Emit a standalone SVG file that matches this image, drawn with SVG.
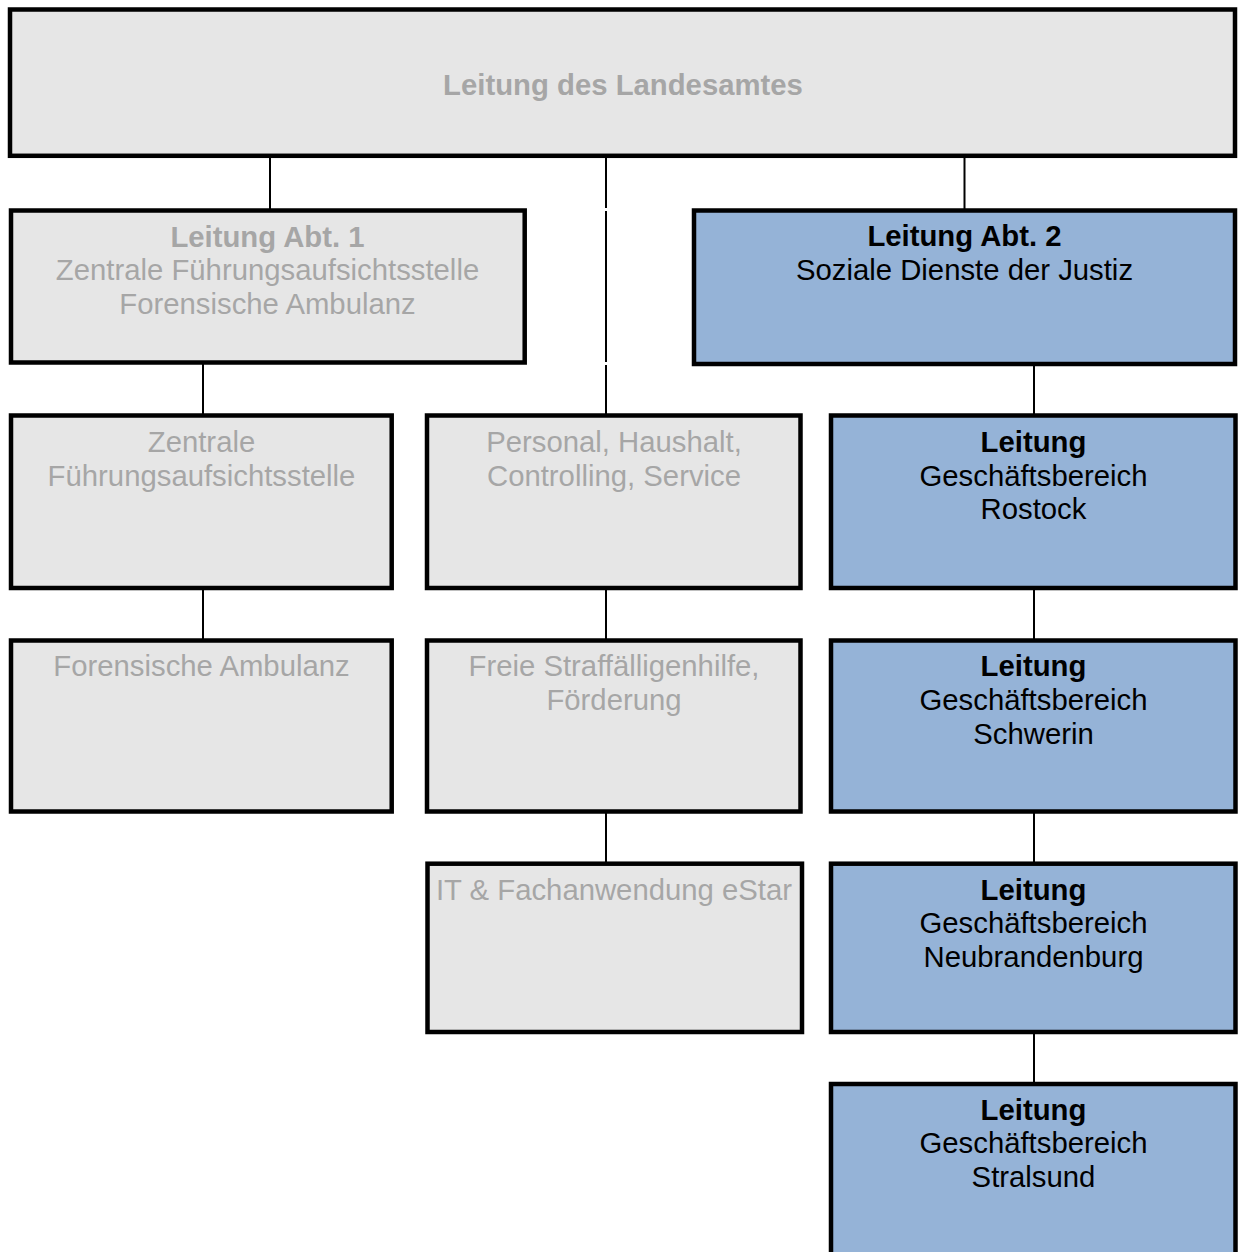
<svg xmlns="http://www.w3.org/2000/svg" width="1240" height="1252" viewBox="0 0 1240 1252">
<style>
  .box { stroke: #000; stroke-width: 4.5; }
  .grey { fill: #e6e6e6; }
  .blue { fill: #95b3d7; }
  .line { stroke: #000; stroke-width: 2; fill: none; }
  text { font-family: "Liberation Sans", Arial, sans-serif; font-size: 29.3px; text-anchor: middle; }
  .gt { fill: #a6a6a6; }
  .bt { fill: #000; }
  .b { font-weight: bold; }
</style>
<rect width="1240" height="1252" fill="#fff"/>
<g id="connectors">
  <line class="line" x1="270" y1="156" x2="270" y2="210"/>
  <line class="line" x1="964.5" y1="156" x2="964.5" y2="210"/>
  <line class="line" x1="606" y1="156" x2="606" y2="208"/>
  <line class="line" x1="606" y1="211" x2="606" y2="362"/>
  <line class="line" x1="606" y1="365" x2="606" y2="415"/>
  <line class="line" x1="1034" y1="364" x2="1034" y2="415"/>
  <line class="line" x1="203" y1="362" x2="203" y2="415"/>
  <line class="line" x1="203" y1="588" x2="203" y2="640"/>
  <line class="line" x1="606" y1="588" x2="606" y2="640"/>
  <line class="line" x1="1034" y1="588" x2="1034" y2="640"/>
  <line class="line" x1="606" y1="811" x2="606" y2="864"/>
  <line class="line" x1="1034" y1="811" x2="1034" y2="864"/>
  <line class="line" x1="1034" y1="1032" x2="1034" y2="1084"/>
</g>
<g id="leitung-landesamt">
  <rect class="box grey" x="10" y="9.5" width="1225" height="146.3"/>
  <text class="gt b" x="623" y="94.5">Leitung des Landesamtes</text>
</g>
<g id="abt1">
  <rect class="box grey" x="11" y="210.5" width="513.7" height="152"/>
  <text class="gt" x="267.5"><tspan class="b" x="267.5" y="246.5">Leitung Abt. 1</tspan><tspan x="267.5" y="280">Zentrale Führungsaufsichtsstelle</tspan><tspan x="267.5" y="313.5">Forensische Ambulanz</tspan></text>
</g>
<g id="abt2">
  <rect class="box blue" x="694" y="210.5" width="541" height="153.5"/>
  <text class="bt" x="964.5"><tspan class="b" x="964.5" y="246">Leitung Abt. 2</tspan><tspan x="964.5" y="280">Soziale Dienste der Justiz</tspan></text>
</g>
<g id="zfas">
  <rect class="box grey" x="11" y="415.5" width="380.7" height="172.5"/>
  <text class="gt"><tspan x="201.5" y="451.7">Zentrale</tspan><tspan x="201.5" y="485.5">Führungsaufsichtsstelle</tspan></text>
</g>
<g id="personal">
  <rect class="box grey" x="427" y="415.5" width="373.5" height="172.5"/>
  <text class="gt"><tspan x="614" y="451.7">Personal, Haushalt,</tspan><tspan x="614" y="485.5">Controlling, Service</tspan></text>
</g>
<g id="rostock">
  <rect class="box blue" x="831" y="415.5" width="404.5" height="172.5"/>
  <text class="bt"><tspan class="b" x="1033.5" y="451.7">Leitung</tspan><tspan x="1033.5" y="485.5">Geschäftsbereich</tspan><tspan x="1033.5" y="518.5">Rostock</tspan></text>
</g>
<g id="forensik">
  <rect class="box grey" x="11" y="640.5" width="380.7" height="171"/>
  <text class="gt" x="201.5" y="676">Forensische Ambulanz</text>
</g>
<g id="straffaelligenhilfe">
  <rect class="box grey" x="427" y="640.5" width="373.5" height="171"/>
  <text class="gt"><tspan x="614" y="676">Freie Straffälligenhilfe,</tspan><tspan x="614" y="710">Förderung</tspan></text>
</g>
<g id="schwerin">
  <rect class="box blue" x="831" y="640.5" width="404.5" height="171"/>
  <text class="bt"><tspan class="b" x="1033.5" y="676">Leitung</tspan><tspan x="1033.5" y="710">Geschäftsbereich</tspan><tspan x="1033.5" y="743.5">Schwerin</tspan></text>
</g>
<g id="it">
  <rect class="box grey" x="427.5" y="863.7" width="374.5" height="168.3"/>
  <text class="gt" x="614" y="899.5">IT &amp; Fachanwendung eStar</text>
</g>
<g id="neubrandenburg">
  <rect class="box blue" x="831" y="863.7" width="404.5" height="168.3"/>
  <text class="bt"><tspan class="b" x="1033.5" y="899.5">Leitung</tspan><tspan x="1033.5" y="933.3">Geschäftsbereich</tspan><tspan x="1033.5" y="967">Neubrandenburg</tspan></text>
</g>
<g id="stralsund">
  <rect class="box blue" x="831" y="1084" width="404.5" height="200"/>
  <text class="bt"><tspan class="b" x="1033.5" y="1120">Leitung</tspan><tspan x="1033.5" y="1153.3">Geschäftsbereich</tspan><tspan x="1033.5" y="1186.7">Stralsund</tspan></text>
</g>
</svg>
